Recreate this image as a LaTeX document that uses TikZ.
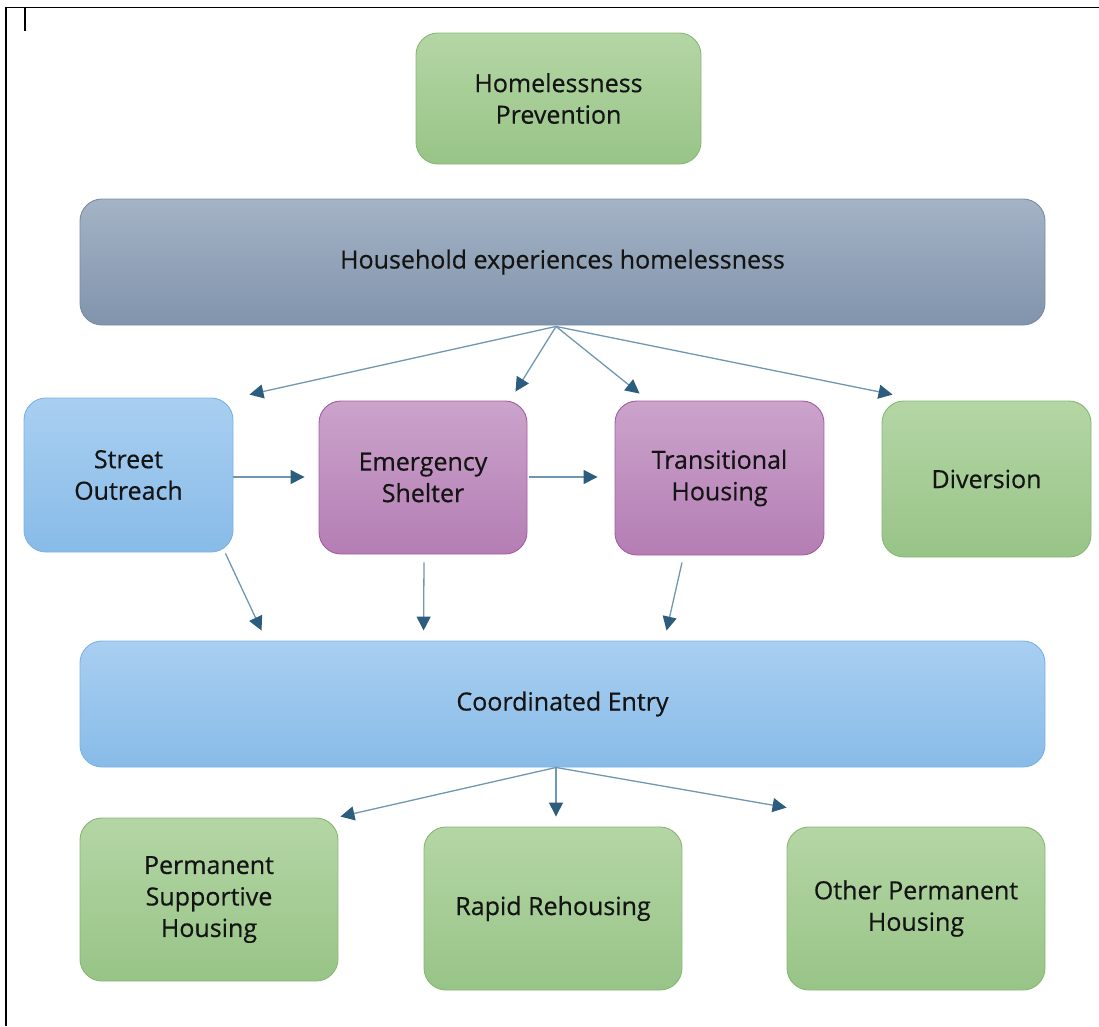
\documentclass[tikz,border=0pt]{standalone}
\usepackage{fontspec}
\setmainfont{Open Sans}
\newfontfamily\boxfont[FakeBold=0.5]{Open Sans}
\usetikzlibrary{arrows.meta,shadings,calc}
\definecolor{gtop}{HTML}{B4D6A5}\definecolor{gbot}{HTML}{98C487}\definecolor{gline}{HTML}{86B873}
\definecolor{stop}{HTML}{A4B3C5}\definecolor{sbot}{HTML}{8194AC}\definecolor{sline}{HTML}{7A8CA3}
\definecolor{btop}{HTML}{A9CFF1}\definecolor{bbot}{HTML}{88BBE8}\definecolor{bline}{HTML}{7BB2E3}
\definecolor{ptop}{HTML}{CBA3CB}\definecolor{pbot}{HTML}{B47EB4}\definecolor{pline}{HTML}{A25E9F}
\definecolor{arrline}{HTML}{7097B2}\definecolor{arrhead}{HTML}{2D5D7E}
\definecolor{txt}{HTML}{141414}
\tikzset{
  box/.style={rounded corners=22pt, line width=0.9pt, align=center, text=txt,
    font=\boxfont\fontsize{25}{31.5}\selectfont, inner sep=0pt},
  greenbox/.style={box, draw=gline, top color=gtop, bottom color=gbot},
  slatebox/.style={box, draw=sline, top color=stop, bottom color=sbot},
  bluebox/.style={box, draw=bline, top color=btop, bottom color=bbot},
  purplebox/.style={box, draw=pline, top color=ptop, bottom color=pbot},
  conn/.style={draw=arrline, line width=1.3pt, -{Triangle[length=14pt,width=14pt,color=arrhead]}},
  frame/.style={line width=1.6pt, black}
}
\begin{document}
\begin{tikzpicture}[x=1pt,y=1pt]
\useasboundingbox (0,0) rectangle (1099,-1026);
% frame
\draw[frame] (6,-1026) -- (6,-7.5) -- (1099,-7.5);
\draw[line width=1.2pt] (25,-8) -- (25,-31);
% nodes
\node[greenbox, minimum width=285, minimum height=131] (hp) at (558.5,-98.5) {Homelessness\\Prevention};
\node[slatebox, minimum width=965, minimum height=126] (hh) at (562.5,-262) {Household experiences homelessness};
\node[bluebox, minimum width=209, minimum height=154] (so) at (128.5,-475) {Street\\Outreach};
\node[purplebox, minimum width=208, minimum height=153] (es) at (423,-477.5) {Emergency\\Shelter};
\node[purplebox, minimum width=209, minimum height=154] (th) at (719.5,-478) {Transitional\\Housing};
\node[greenbox, minimum width=209, minimum height=156] (dv) at (986.5,-479) {Diversion};
\node[bluebox, minimum width=965, minimum height=126] (ce) at (562.5,-704) {Coordinated Entry};
\node[greenbox, minimum width=258, minimum height=163] (psh) at (209,-899.5) {Permanent\\Supportive\\Housing};
\node[greenbox, minimum width=258, minimum height=163] (rr) at (553,-908.5) {Rapid Rehousing};
\node[greenbox, minimum width=258, minimum height=163] (oph) at (916,-908.5) {Other Permanent\\Housing};
% connectors from Household
\coordinate (hhsrc) at ([xshift=-6.5pt,yshift=-1pt]hh.south);
\draw[conn] (hhsrc) -- ($(so.north east)+(16,3)$);
\draw[conn] (hhsrc) -- ($(es.north east)+(-12,9)$);
\draw[conn] (hhsrc) -- ($(th.north west)+(25,7)$);
\draw[conn] (hhsrc) -- ($(dv.north west)+(11,6)$);
% horizontal
\draw[conn] ([yshift=-2pt]so.east) -- ([xshift=-14pt,yshift=0.5pt]es.west);
\draw[conn] ($(es.east)+(2,0.5)$) -- ([xshift=-17pt,yshift=1pt]th.west);
% down to Coordinated Entry
\draw[conn] ($(so.south east)+(-8,-1)$) -- ($(ce.north west)+(182,10)$);
\draw[conn] ($(es.south)+(1,-8)$) -- ($(ce.north west)+(344,10)$);
\draw[conn] ($(th.south)+(-37.5,-7)$) -- ($(ce.north west)+(587,10)$);
% from Coordinated Entry
\coordinate (cesrc) at ([xshift=-6.5pt]ce.south);
\draw[conn] (cesrc) -- ($(psh.north east)+(2,1)$);
\draw[conn] (cesrc) -- ($(rr.north)+(3,10)$);
\draw[conn] (cesrc) -- ($(oph.north west)+(0,19)$);
\end{tikzpicture}
\end{document}
